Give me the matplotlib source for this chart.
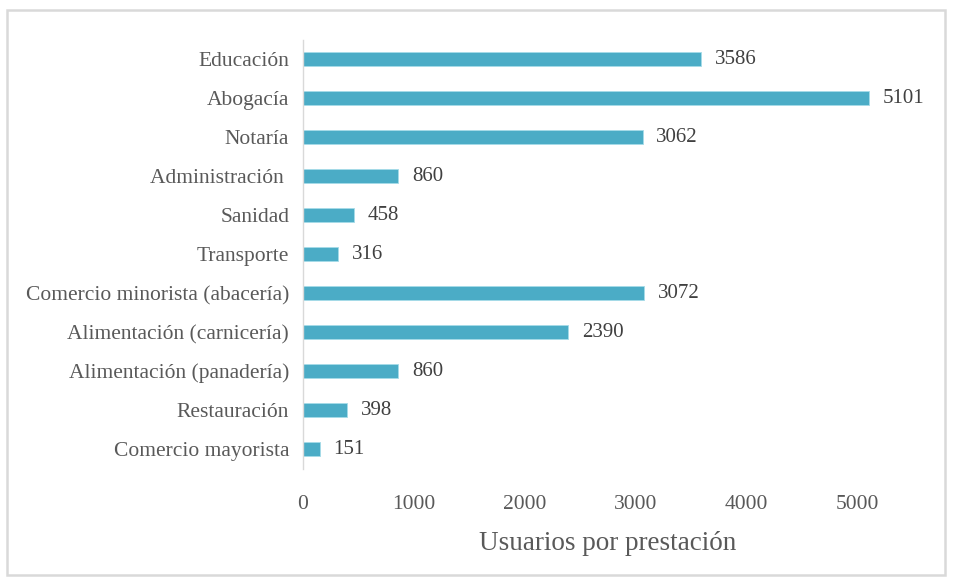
import matplotlib
matplotlib.use('Agg')
import matplotlib.pyplot as plt
from matplotlib.patches import Rectangle

# Users per service type
categorias = ['Educación', 'Abogacía', 'Notaría', 'Administración ', 'Sanidad',
              'Transporte', 'Comercio minorista (abacería)', 'Alimentación (carnicería)',
              'Alimentación (panadería)', 'Restauración', 'Comercio mayorista']
usuarios = [3586, 5101, 3062, 860, 458, 316, 3072, 2390, 860, 398, 151]
ticks_x = [0, 1000, 2000, 3000, 4000, 5000]

plt.rcParams['font.family'] = ['Liberation Serif', 'DejaVu Serif']

fig = plt.figure(figsize=(9.56, 5.81), dpi=100)
ax = fig.add_axes([0.317, 0.1936, 0.6495, 0.7384])

pos = list(range(len(categorias)))
ax.barh(pos, usuarios, height=0.35, color='#4BACC6', edgecolor='#a6dbe8', linewidth=0.6)
ax.set_ylim(len(categorias) - 0.5, -0.5)
ax.set_xlim(0, 5600)

for y, v in zip(pos, usuarios):
    ax.text(v + 125, y, str(v), va='center', ha='left', fontsize=15, color='#404040')

ax.set_yticks(pos)
ax.set_yticklabels(categorias, fontsize=15.5, color='#595959')
ax.set_xticks(ticks_x)
ax.set_xticklabels([str(t) for t in ticks_x], fontsize=15.5, color='#595959')
ax.tick_params(axis='both', length=0)
ax.tick_params(axis='y', pad=10)
ax.tick_params(axis='x', pad=19)
ax.set_xlabel('Usuarios por prestación', fontsize=19.5, color='#595959')
ax.xaxis.set_label_coords(0.49, -0.145)

for s in ['top', 'right', 'bottom']:
    ax.spines[s].set_visible(False)
ax.spines['left'].set_color('#d9d9d9')
ax.spines['left'].set_linewidth(1)

# outer frame
fig.patches.append(Rectangle((7 / 956, 6 / 581), 938 / 956, 565 / 581, transform=fig.transFigure,
                             fill=False, edgecolor='#d9d9d9', linewidth=1.8))

fig.savefig('out.png', dpi=100)
